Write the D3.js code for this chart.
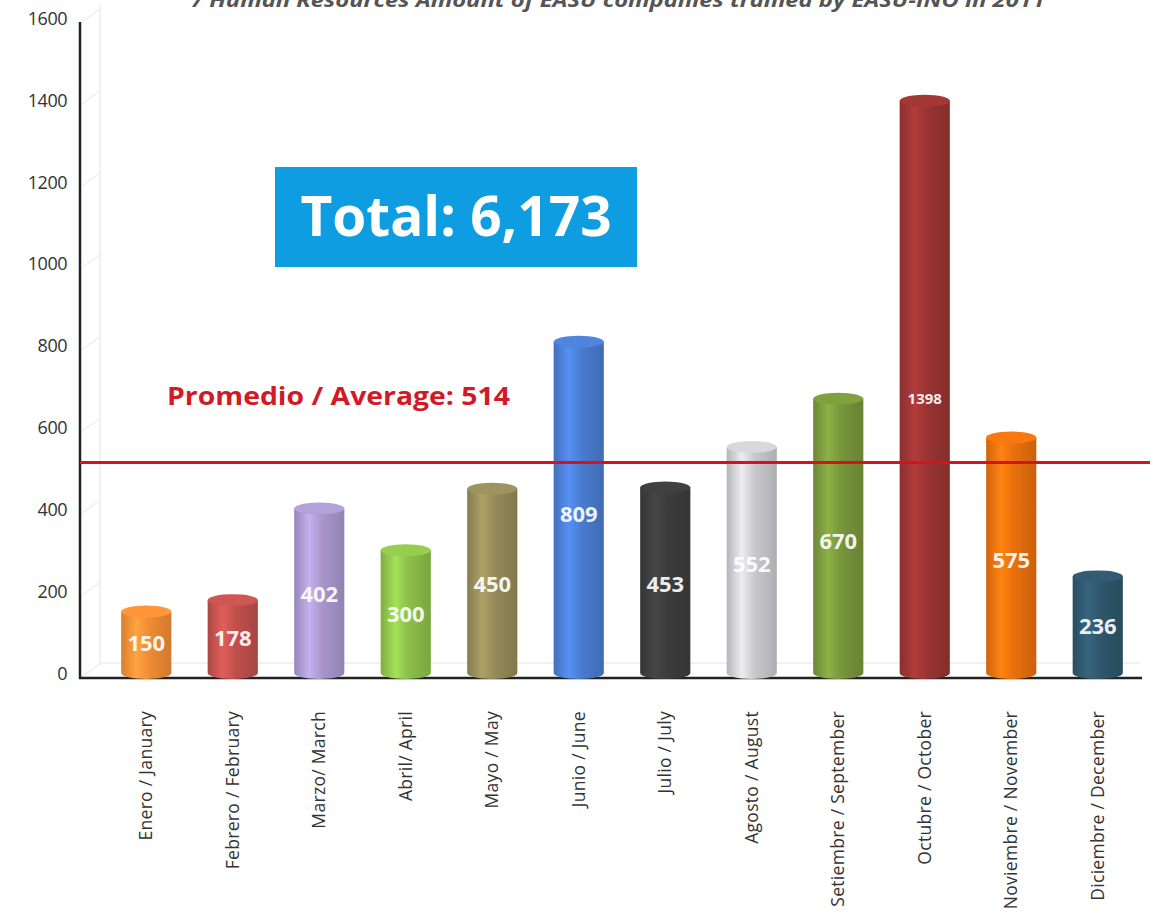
<!DOCTYPE html>
<html><head><meta charset="utf-8">
<script src="https://cdn.jsdelivr.net/npm/d3@7"></script>
<style>body{margin:0;background:#fff}svg{display:block}</style>
</head><body>
<svg id="c" width="1150" height="924"></svg>
<script>
const months = ["Enero / January","Febrero / February","Marzo/ March","Abril/ April","Mayo / May","Junio / June","Julio / July","Agosto / August","Setiembre / September","Octubre / October","Noviembre / November","Diciembre / December"];
const values = [150,178,402,300,450,809,453,552,670,1398,575,236];
const colors = ["#f08c35","#c0504d","#a896cc","#8cc04a","#948a58","#4a7bd0","#3c3c3c","#c9c9cd","#78963c","#983432","#e8700e","#2f566c"];
const yTicks = [0,200,400,600,800,1000,1200,1400,1600];
const average = 514;
const totalLabel = "Total: 6,173";
const avgLabel = "Promedio / Average: 514";
const titleText = "/ Human Resources Amount of EASU companies trained by EASU-INO in 2011";

const svg = d3.select("#c");
const y = d3.scaleLinear().domain([0,1600]).range([673,18]);
const x = d3.scaleBand().domain(months).range([103,1141]).paddingInner(0.42).paddingOuter(0.21);
const defs = svg.append("defs");
const FONT = "Open Sans, sans-serif";

// title (cut off at top, as in the reference)
svg.append("text").attr("x",193).attr("y",7).attr("font-family",FONT)
  .attr("font-size",20).attr("font-weight","bold").attr("font-style","italic").attr("fill","#555")
  .attr("textLength",852).attr("lengthAdjust","spacingAndGlyphs").text(titleText);

// back wall
const dx = 20, dy = 13;
svg.append("line").attr("x1",80+dx).attr("x2",80+dx).attr("y1",y(1600)-dy).attr("y2",y(0)-dy+5).attr("stroke","#e2e2e2");
svg.append("line").attr("x1",80+dx).attr("x2",1140).attr("y1",y(0)-dy+3).attr("y2",y(0)-dy+3).attr("stroke","#e2e2e2");
svg.selectAll(".diag").data(yTicks).enter().append("line")
  .attr("x1",82).attr("y1",d=>y(d)+4).attr("x2",80+dx).attr("y2",d=>y(d)-dy+4)
  .attr("stroke","#e6e6e6");

// axes
svg.append("line").attr("x1",80).attr("x2",80).attr("y1",22).attr("y2",679).attr("stroke","#222").attr("stroke-width",2.5);
svg.append("line").attr("x1",79).attr("x2",1142).attr("y1",678).attr("y2",678).attr("stroke","#222").attr("stroke-width",2.5);

const yAxis = d3.axisLeft(y).tickValues(yTicks).tickFormat(d3.format("d")).tickSize(0).tickPadding(0);
const ga = svg.append("g").attr("transform","translate(67,0)").call(yAxis);
ga.select(".domain").remove();
ga.selectAll("text").attr("font-family",FONT).attr("font-size",18).attr("fill","#333").attr("dy","0.35em")
  .attr("letter-spacing","-0.5");

// x labels
const xAxis = d3.axisBottom(x).tickSize(0).tickPadding(0);
const gx = svg.append("g").attr("transform","translate(0,711)").call(xAxis);
gx.select(".domain").remove();
gx.selectAll("text").attr("font-family",FONT).attr("font-size",17.5).attr("fill","#333")
  .attr("transform","rotate(-90)").attr("text-anchor","end").attr("x",0).attr("y",0).attr("dy","0.35em")
  .attr("letter-spacing","0.3");

// gradients
colors.forEach((c,i)=>{
  const g = defs.append("linearGradient").attr("id","g"+i).attr("x1","0").attr("x2","1").attr("y1","0").attr("y2","0");
  const base = d3.color(c);
  g.append("stop").attr("offset","0%").attr("stop-color",base.darker(0.3));
  g.append("stop").attr("offset","30%").attr("stop-color",base.brighter(0.45));
  g.append("stop").attr("offset","55%").attr("stop-color",base);
  g.append("stop").attr("offset","100%").attr("stop-color",base.darker(0.4));
});

const ry = 6;
const bars = svg.selectAll(".bar").data(values).enter().append("g");
bars.append("path").attr("fill",(d,i)=>"url(#g"+i+")").attr("d",(d,i)=>{
  const x0 = x(months[i]), w = x.bandwidth(), top = y(d), bot = y(0);
  return `M${x0},${top} L${x0},${bot} A${w/2},${ry} 0 0 0 ${x0+w},${bot} L${x0+w},${top} Z`;
});
bars.append("ellipse").attr("cx",(d,i)=>x(months[i])+x.bandwidth()/2).attr("cy",d=>y(d))
  .attr("rx",x.bandwidth()/2).attr("ry",ry).attr("fill",(d,i)=>d3.color(colors[i]).brighter(0.2));

svg.append("line").attr("x1",80).attr("x2",1150).attr("y1",y(average)).attr("y2",y(average))
  .attr("stroke","#d7121d").attr("stroke-width",3);

bars.append("text").attr("x",(d,i)=>x(months[i])+x.bandwidth()/2).attr("y",d=>y(d*0.48))
  .attr("dy","0.35em").attr("text-anchor","middle").attr("font-family",FONT)
  .attr("font-weight","bold").attr("font-size",d=>d>=1000?15:22).attr("fill","#fff")
  .attr("fill-opacity",0.92).text(d=>d);

svg.append("text").attr("x",167).attr("y",405).attr("font-family",FONT)
  .attr("font-size",25).attr("font-weight","bold").attr("fill","#d21a26")
  .attr("textLength",343).attr("lengthAdjust","spacingAndGlyphs").text(avgLabel);

svg.append("rect").attr("x",275).attr("y",167).attr("width",362).attr("height",100).attr("fill","#0d9de0");
svg.append("text").attr("x",456).attr("y",236).attr("text-anchor","middle").attr("font-family",FONT)
  .attr("font-size",55).attr("font-weight","bold").attr("fill","#fff").text(totalLabel);
</script>
</body></html>
